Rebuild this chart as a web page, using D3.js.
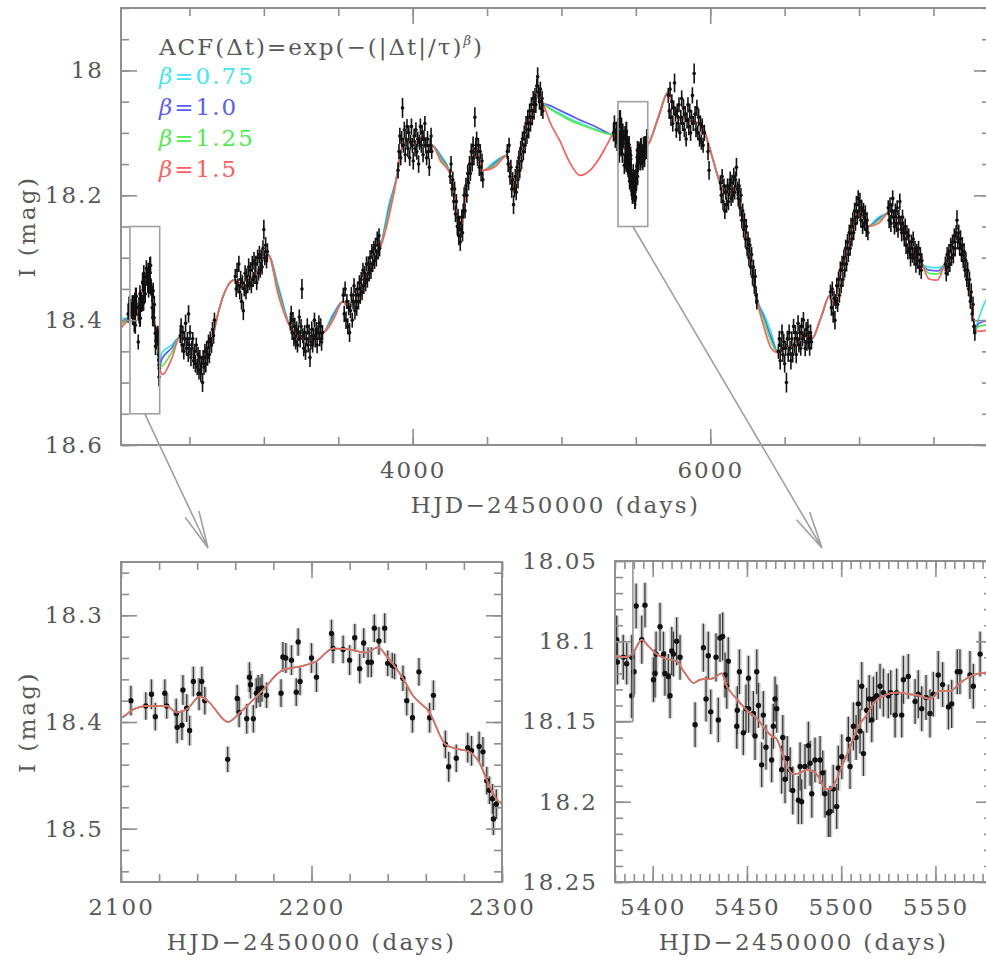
<!DOCTYPE html>
<html>
<head>
<meta charset="utf-8">
<script src="https://cdn.jsdelivr.net/npm/d3@7/dist/d3.min.js"></script>
<style>
  html, body { margin: 0; padding: 0; background: #fff; }
  svg { display: block; }
</style>
</head>
<body>
<svg id="fig" width="986" height="960"></svg>
<script>
// I-band photometry, one array per observing season: [HJD-2450000, I (mag), error (mmag)]
const season01 = [[2088,18.39,14],[2094,18.375,13],
  [2105.2,18.380,14],[2113,18.385,13],[2116,18.374,14],[2118,18.395,13],[2123,18.373,13],[2124,18.385,12],[2129,18.392,14],[2129.5,18.405,15],[2132,18.403,14],[2132.5,18.370,14],[2134.5,18.387,13],[2136,18.408,14],[2138,18.362,14],[2141,18.374,15],[2142.4,18.362,14],[2144,18.380,13],[2156,18.435,12],[2161,18.378,13],[2162,18.391,14],[2166,18.397,14],[2167.4,18.358,14],[2168,18.365,13],[2169.5,18.397,13],[2171,18.373,14],[2172,18.369,13],[2173,18.372,14],[2174,18.368,13],[2176.4,18.375,12],[2184,18.373,13],[2185,18.339,14],[2186.5,18.340,14],[2189.5,18.342,14],[2192,18.372,13],[2193,18.325,13],[2194,18.362,13],[2200,18.340,14],[2202.6,18.358,14],[2210.5,18.317,13],[2211.3,18.331,14],[2216.6,18.332,13],[2220,18.342,14],[2222.7,18.321,13],[2225.3,18.350,14],[2227.4,18.326,14],[2229.7,18.344,14],[2231.4,18.344,14],[2233,18.312,13],[2235.4,18.324,13],[2238.4,18.312,14],[2240,18.345,12],[2242.4,18.347,12],[2243.6,18.348,12],[2248,18.359,12],[2250,18.380,14],[2253,18.396,14],[2256.4,18.353,13],[2262,18.396,14],[2264,18.375,14],[2270.3,18.421,13],[2272,18.442,14],[2276,18.434,13],[2282,18.424,14],[2284,18.427,14],[2288,18.423,14],[2290,18.428,14],[2292,18.455,13],[2293.4,18.464,13],[2295,18.472,14],[2295.5,18.491,15],[2297,18.477,14]];
const season02 = [[2438,18.425,12],[2444,18.41,13],[2450,18.44,12],[2456,18.42,11],[2462,18.45,13],[2468,18.43,12],[2474,18.405,14],[2480,18.445,12],[2486,18.43,11],[2492,18.455,12],[2494,18.39,14],[2498,18.44,13],[2504,18.42,12],[2510,18.46,14],[2516,18.445,12],[2522,18.43,11],[2528,18.465,13],[2534,18.45,12],[2540,18.47,14],[2546,18.44,12],[2552,18.475,13],[2558,18.455,12],[2564,18.48,15],[2570,18.46,12],[2576,18.485,14],[2582,18.47,13],[2588,18.50,15],[2592,18.46,12],[2598,18.475,13],[2604,18.45,12],[2610,18.47,14],[2616,18.445,12],[2622,18.46,13],[2628,18.435,12],[2634,18.455,14],[2640,18.43,12],[2648,18.44,13],[2655,18.415,12],[2662,18.425,13],[2668,18.40,12]];
const season03 = [[2808,18.33,12],[2814,18.35,13],[2820,18.32,12],[2826,18.345,12],[2832,18.31,13],[2838,18.355,12],[2844,18.335,14],[2850,18.37,13],[2856,18.34,12],[2862,18.385,15],[2868,18.35,12],[2874,18.325,13],[2880,18.355,12],[2886,18.33,13],[2892,18.345,12],[2898,18.315,14],[2904,18.34,12],[2910,18.32,13],[2916,18.345,12],[2922,18.31,13],[2928,18.335,12],[2934,18.305,14],[2940,18.33,12],[2946,18.31,13],[2952,18.34,12],[2958,18.30,13],[2964,18.325,12],[2970,18.295,14],[2976,18.32,12],[2982,18.30,13],[2988,18.315,12],[2994,18.285,13],[3000,18.255,16],[3006,18.30,12],[3012,18.28,13],[3018,18.305,12],[3024,18.29,13]];
const season04 = [[3178,18.405,12],[3184,18.39,13],[3190,18.42,12],[3196,18.40,13],[3202,18.43,12],[3208,18.41,14],[3214,18.435,12],[3220,18.415,13],[3226,18.44,12],[3232,18.42,13],[3238,18.395,12],[3244,18.43,14],[3250,18.41,12],[3256,18.35,16],[3262,18.425,12],[3268,18.445,13],[3274,18.42,12],[3280,18.45,14],[3286,18.43,12],[3292,18.41,13],[3298,18.44,12],[3304,18.42,13],[3310,18.46,15],[3316,18.435,12],[3322,18.415,13],[3328,18.44,12],[3334,18.425,13],[3340,18.40,12],[3346,18.43,14],[3352,18.415,12],[3358,18.44,13],[3364,18.42,12],[3370,18.405,13],[3376,18.43,12],[3382,18.41,13],[3388,18.435,14],[3394,18.42,12]];
const season05 = [[3534,18.36,12],[3540,18.39,13],[3546,18.35,12],[3552,18.40,14],[3558,18.37,12],[3564,18.41,13],[3570,18.38,12],[3576,18.42,15],[3582,18.385,12],[3588,18.36,13],[3594,18.40,12],[3600,18.37,13],[3606,18.345,12],[3612,18.385,14],[3618,18.36,12],[3624,18.38,13],[3630,18.35,12],[3636,18.37,13],[3642,18.34,12],[3648,18.36,14],[3654,18.335,12],[3660,18.355,13],[3666,18.32,12],[3672,18.345,13],[3678,18.325,12],[3684,18.34,14],[3690,18.31,12],[3696,18.335,13],[3702,18.31,12],[3708,18.325,13],[3714,18.30,12],[3720,18.32,14],[3726,18.29,12],[3732,18.31,13],[3738,18.285,12],[3744,18.305,13],[3750,18.28,12],[3756,18.30,14],[3762,18.27,12],[3768,18.29,13],[3774,18.265,12],[3778,18.285,13]];
const season06 = [[3902,18.16,13],[3908,18.13,12],[3914,18.105,13],[3920,18.14,12],[3926,18.11,13],[3932,18.06,16],[3938,18.12,12],[3944,18.095,13],[3950,18.135,12],[3956,18.11,13],[3962,18.09,12],[3968,18.125,14],[3974,18.10,12],[3980,18.14,13],[3986,18.115,12],[3992,18.09,13],[3998,18.12,12],[4004,18.145,14],[4010,18.105,12],[4016,18.125,13],[4022,18.095,12],[4028,18.13,13],[4034,18.11,12],[4040,18.15,14],[4046,18.115,12],[4052,18.09,13],[4058,18.12,12],[4064,18.10,13],[4070,18.135,12],[4076,18.11,14],[4082,18.085,12],[4088,18.12,13],[4094,18.14,12],[4100,18.11,13],[4106,18.13,12],[4112,18.155,14],[4118,18.12,12],[4124,18.105,13],[4128,18.13,12]];
const season07 = [[4252,18.17,12],[4258,18.15,13],[4264,18.19,12],[4270,18.175,13],[4276,18.21,14],[4282,18.19,12],[4288,18.23,13],[4294,18.21,12],[4300,18.25,14],[4305,18.235,13],[4310,18.265,15],[4315,18.245,12],[4320,18.275,14],[4325,18.255,13],[4330,18.235,12],[4335,18.26,14],[4340,18.225,12],[4346,18.20,13],[4352,18.225,12],[4358,18.185,13],[4364,18.20,12],[4370,18.165,14],[4376,18.18,12],[4382,18.15,13],[4388,18.165,12],[4394,18.13,13],[4400,18.15,12],[4406,18.12,14],[4412,18.14,12],[4418,18.075,16],[4424,18.125,13],[4430,18.11,12],[4436,18.14,13],[4442,18.12,12],[4448,18.155,14],[4454,18.13,12],[4460,18.165,13],[4466,18.145,12],[4472,18.175,13]];
const season08 = [[4636,18.13,12],[4642,18.15,13],[4648,18.12,12],[4654,18.17,13],[4660,18.155,12],[4666,18.19,14],[4672,18.175,12],[4678,18.215,15],[4684,18.19,13],[4690,18.17,12],[4696,18.195,13],[4702,18.155,12],[4708,18.175,14],[4714,18.14,12],[4720,18.16,13],[4726,18.125,12],[4732,18.145,13],[4738,18.11,12],[4744,18.13,14],[4750,18.10,12],[4756,18.12,13],[4762,18.085,12],[4768,18.105,13],[4774,18.075,12],[4780,18.095,14],[4786,18.065,12],[4792,18.085,13],[4798,18.055,12],[4804,18.075,13],[4810,18.045,12],[4816,18.065,14],[4822,18.04,12],[4828,18.055,13],[4834,18.025,12],[4840,18.01,15],[4846,18.035,12],[4852,18.05,13],[4858,18.03,12],[4864,18.06,13],[4870,18.045,12],[4875,18.065,13]];
const season09 = [[5350,18.10,14],[5356,18.085,13],[5362,18.11,14],[5368,18.095,13],[5374,18.115,14],[5378,18.09,13],
  [5380.9,18.099,15],[5381.3,18.113,14],[5384.4,18.110,14],[5386.2,18.114,13],[5388.9,18.110,14],[5388.9,18.134,14],[5390.1,18.119,14],[5391.2,18.078,14],[5395.9,18.0775,14],[5394.2,18.099,15],[5400.4,18.124,14],[5401.2,18.120,15],[5401.8,18.108,14],[5403.9,18.091,15],[5405.7,18.108,14],[5406.5,18.120,14],[5408.3,18.122,14],[5409.2,18.134,14],[5410.1,18.106,15],[5411.0,18.108,14],[5412.7,18.100,15],[5414.5,18.110,14],[5422.5,18.152,14],[5426.9,18.104,15],[5428.3,18.136,14],[5429.5,18.109,15],[5430.8,18.144,14],[5433.6,18.110,15],[5434.8,18.149,14],[5435.7,18.098,15],[5437.1,18.097,15],[5438.4,18.121,14],[5440.1,18.1125,15],[5439.3,18.128,14],[5444.6,18.153,14],[5444.9,18.143,15],[5446.0,18.119,14],[5448.1,18.157,14],[5449.5,18.142,15],[5450.8,18.123,14],[5450.9,18.142,15],[5453.4,18.145,14],[5455.2,18.119,14],[5454.3,18.159,15],[5456.1,18.140,14],[5457.8,18.177,14],[5458.7,18.146,15],[5460.1,18.166,14],[5463.1,18.174,14],[5464.9,18.136,14],[5465.8,18.142,15],[5464.0,18.153,14],[5469.0,18.160,14],[5468.4,18.180,15],[5470.2,18.186,15],[5471.4,18.173,14],[5472.9,18.180,14],[5474.3,18.193,15],[5477.3,18.199,15],[5478.2,18.178,15],[5479.0,18.200,14],[5480.8,18.178,14],[5482.6,18.165,15],[5483.5,18.176,14],[5484.4,18.195,15],[5486.1,18.174,14],[5488.8,18.174,15],[5490.2,18.182,14],[5491.4,18.195,15],[5493.2,18.207,15],[5494.1,18.206,16],[5495.8,18.192,15],[5497.6,18.203,14],[5498.5,18.179,14],[5500.3,18.172,14],[5503.8,18.161,14],[5504.7,18.178,14],[5506.5,18.153,15],[5507.9,18.160,14],[5509.1,18.139,15],[5510.0,18.156,14],[5511.8,18.170,14],[5510.9,18.128,15],[5513.5,18.143,14],[5514.9,18.136,15],[5516.2,18.149,14],[5517.1,18.136,14],[5518.8,18.134,15],[5520.6,18.128,14],[5522.4,18.132,15],[5525.0,18.134,14],[5526.3,18.132,14],[5528.6,18.146,14],[5529.4,18.132,15],[5532.1,18.146,14],[5533.0,18.124,15],[5535.6,18.122,14],[5539.2,18.1375,14],[5540.9,18.133,15],[5542.7,18.142,14],[5545.0,18.135,14],[5547.1,18.145,15],[5548.9,18.133,14],[5551.5,18.121,15],[5553.8,18.127,14],[5556.9,18.141,14],[5558.6,18.139,15],[5561.6,18.119,14],[5563.0,18.119,14],[5568.3,18.121,15],[5570.1,18.128,14],[5573.7,18.108,14]];
const season10 = [[5718,18.04,12],[5724,18.065,13],[5730,18.03,12],[5736,18.075,14],[5742,18.05,12],[5748,18.085,13],[5754,18.06,12],[5760,18.02,15],[5766,18.07,12],[5772,18.095,13],[5778,18.065,12],[5784,18.085,14],[5790,18.055,12],[5796,18.10,13],[5802,18.075,12],[5808,18.045,13],[5814,18.085,12],[5820,18.06,14],[5826,18.095,12],[5832,18.07,13],[5838,18.11,12],[5844,18.08,13],[5850,18.055,12],[5856,18.09,14],[5862,18.065,12],[5868,18.10,13],[5874,18.075,12],[5880,18.04,13],[5886,18.085,12],[5892,18.005,16],[5898,18.07,13],[5904,18.095,12],[5910,18.06,13],[5916,18.10,12],[5922,18.075,14],[5928,18.11,12],[5934,18.085,13],[5940,18.115,12],[5946,18.09,13],[5952,18.12,12],[5960,18.10,13],[5985,18.13,14],[5992,18.16,15]];
const season11 = [[6068,18.18,12],[6074,18.20,13],[6080,18.17,12],[6086,18.21,14],[6092,18.185,12],[6098,18.225,13],[6104,18.195,12],[6110,18.215,13],[6116,18.185,12],[6122,18.21,14],[6128,18.19,12],[6134,18.175,13],[6140,18.205,12],[6146,18.18,13],[6152,18.20,12],[6158,18.17,14],[6164,18.195,12],[6170,18.175,13],[6176,18.155,15],[6182,18.19,12],[6188,18.205,13],[6194,18.185,12],[6200,18.22,14],[6206,18.20,12],[6212,18.24,13],[6218,18.225,12],[6224,18.255,13],[6230,18.24,12],[6236,18.27,14],[6242,18.25,12],[6248,18.285,13],[6254,18.27,12],[6260,18.30,14],[6266,18.28,12],[6272,18.315,13],[6278,18.295,12],[6284,18.33,14],[6290,18.315,12],[6296,18.345,13],[6302,18.33,12],[6308,18.36,14],[6313,18.37,13]];
const season12 = [[6458,18.45,12],[6464,18.43,13],[6470,18.465,14],[6476,18.44,12],[6482,18.42,13],[6488,18.455,12],[6494,18.435,13],[6500,18.47,14],[6506,18.445,12],[6512,18.50,16],[6518,18.43,13],[6524,18.455,12],[6530,18.42,13],[6536,18.445,12],[6542,18.465,14],[6548,18.43,12],[6554,18.455,13],[6560,18.41,12],[6566,18.44,13],[6572,18.42,12],[6578,18.455,14],[6584,18.43,12],[6590,18.405,13],[6596,18.44,12],[6602,18.42,13],[6608,18.445,12],[6614,18.41,14],[6620,18.43,12],[6626,18.40,13],[6632,18.425,12],[6638,18.445,13],[6644,18.415,12],[6650,18.435,14],[6656,18.41,12],[6662,18.43,13],[6668,18.445,12],[6674,18.42,13],[6680,18.435,12]];
const season13 = [[6808,18.355,12],[6814,18.38,13],[6820,18.35,12],[6826,18.39,14],[6832,18.365,12],[6838,18.40,15],[6844,18.37,12],[6850,18.345,13],[6856,18.375,12],[6862,18.335,13],[6868,18.36,12],[6874,18.32,14],[6880,18.345,12],[6886,18.31,13],[6892,18.335,12],[6898,18.30,13],[6904,18.32,12],[6910,18.285,14],[6916,18.31,12],[6922,18.275,13],[6928,18.295,12],[6934,18.26,13],[6940,18.285,12],[6946,18.25,14],[6952,18.27,12],[6958,18.24,13],[6964,18.26,12],[6970,18.225,13],[6976,18.245,12],[6982,18.215,14],[6988,18.235,12],[6994,18.205,13],[7000,18.225,12],[7006,18.21,14],[7012,18.24,12],[7018,18.22,13],[7024,18.25,12],[7030,18.225,13],[7036,18.245,12],[7042,18.23,14],[7048,18.255,12],[7054,18.24,13],[7059,18.26,12]];
const season14 = [[7196,18.22,12],[7202,18.24,13],[7208,18.215,12],[7214,18.245,14],[7220,18.225,12],[7226,18.205,13],[7232,18.235,12],[7238,18.25,13],[7244,18.225,12],[7250,18.245,14],[7256,18.22,12],[7262,18.255,13],[7268,18.235,12],[7274,18.21,13],[7280,18.245,12],[7286,18.26,14],[7292,18.235,12],[7298,18.255,13],[7304,18.27,12],[7310,18.25,13],[7316,18.28,14],[7322,18.26,12],[7328,18.29,13],[7334,18.265,12],[7340,18.285,13],[7346,18.30,14],[7352,18.275,12],[7358,18.295,13],[7364,18.27,12],[7370,18.30,13],[7376,18.285,12],[7382,18.31,14],[7388,18.29,12],[7394,18.305,13],[7400,18.285,12],[7406,18.315,13],[7412,18.295,12],[7418,18.32,14],[7422,18.305,12]];
const season15 = [[7580,18.31,12],[7586,18.325,13],[7592,18.295,12],[7598,18.315,14],[7604,18.29,12],[7610,18.31,13],[7616,18.28,12],[7622,18.30,13],[7628,18.275,12],[7634,18.295,14],[7640,18.265,12],[7646,18.285,13],[7652,18.26,12],[7658,18.24,16],[7664,18.275,12],[7670,18.26,13],[7676,18.285,12],[7682,18.27,14],[7688,18.295,12],[7694,18.28,13],[7700,18.305,12],[7706,18.29,13],[7712,18.32,12],[7718,18.305,14],[7724,18.335,12],[7730,18.32,13],[7736,18.35,12],[7742,18.335,13],[7748,18.37,12],[7754,18.355,14],[7760,18.39,12],[7766,18.375,13],[7772,18.41,12],[7778,18.42,13]];

// Model light curve [HJD-2450000, I (mag)]: nodes shared by all four ACF shapes (inside the seasons)
const fitCommon = [
  [2100,18.396],[2106.6,18.388],[2113.6,18.385],[2124,18.385],[2129.3,18.391],[2134.6,18.388],[2141.5,18.376],[2145.9,18.381],[2156.4,18.400],[2162.5,18.391],[2172.9,18.373],[2185.2,18.351],[2193.9,18.348],[2202.6,18.343],[2211.3,18.331],[2220,18.332],[2228.8,18.335],[2234.9,18.330],[2239.3,18.338],[2248,18.359],[2253.2,18.375],[2261.9,18.391],[2270.3,18.421],[2275.9,18.425],[2282.9,18.428],[2288.1,18.438],[2293.4,18.460],[2298.6,18.475],
  [2436,18.427],[2470,18.432],[2510,18.44],[2550,18.452],[2590,18.462],[2625,18.455],[2650,18.44],[2672,18.41],
  [2806,18.335],[2830,18.34],[2860,18.35],[2900,18.335],[2950,18.325],[2990,18.305],[3028,18.295],
  [3176,18.41],[3220,18.42],[3270,18.43],[3320,18.43],[3360,18.42],[3397,18.42],
  [3532,18.37],[3570,18.38],[3610,18.37],[3650,18.35],[3690,18.33],[3730,18.31],[3760,18.295],[3780,18.285],
  [3901,18.16],[3920,18.13],[3950,18.115],[3990,18.11],[4030,18.115],[4070,18.105],[4100,18.12],[4130,18.12],
  [4251,18.165],[4270,18.185],[4290,18.215],[4305,18.245],[4320,18.258],[4335,18.245],[4350,18.21],[4365,18.18],[4380,18.16],[4400,18.14],[4420,18.125],[4445,18.14],[4473,18.16],
  [4634,18.136],[4650,18.155],[4665,18.18],[4680,18.195],[4695,18.18],[4710,18.15],[4730,18.12],[4760,18.095],[4790,18.075],[4820,18.055],[4845,18.035],[4876,18.052],
  [5346,18.104],[5365,18.106],[5380,18.109],[5386.2,18.110],[5389.7,18.107],[5394.2,18.099],[5397.7,18.103],[5402.1,18.108],[5407.4,18.111],[5412.7,18.1125],[5417.2,18.120],[5421.6,18.126],[5425.1,18.124],[5432.2,18.123],[5436.6,18.120],[5439.3,18.128],[5444.6,18.136],[5449.9,18.143],[5455.2,18.148],[5460.5,18.156],[5463.1,18.159],[5465.8,18.161],[5470.2,18.175],[5474.6,18.183],[5478.2,18.182],[5481.7,18.180],[5485.2,18.181],[5488.8,18.186],[5491.4,18.192],[5494.1,18.192],[5497.6,18.186],[5500.3,18.178],[5504.7,18.166],[5509.1,18.153],[5513.5,18.146],[5517.9,18.1375],[5522.4,18.134],[5529.4,18.132],[5536.5,18.133],[5541.8,18.134],[5547.1,18.136],[5552.4,18.131],[5557.7,18.131],[5563,18.126],[5568.3,18.122],[5573.6,18.120],[5580,18.119],
  [5650,18.076],
  [5716,18.035],[5740,18.05],[5770,18.07],[5800,18.08],[5830,18.075],[5860,18.08],[5890,18.082],[5920,18.085],[5950,18.09],[5965,18.10],
  [6015,18.14],
  [6065,18.18],[6090,18.195],[6110,18.20],[6130,18.195],[6150,18.19],[6170,18.185],[6185,18.19],[6200,18.21],[6220,18.235],[6240,18.26],[6260,18.285],[6280,18.31],[6300,18.34],[6314,18.365],
  [6455,18.452],[6480,18.445],[6510,18.44],[6540,18.445],[6570,18.435],[6600,18.43],[6630,18.42],[6660,18.425],[6683,18.43],
  [6745,18.395],
  [6805,18.36],[6825,18.375],[6845,18.365],[6865,18.34],[6885,18.32],[6905,18.305],[6925,18.285],[6945,18.265],[6965,18.245],[6985,18.228],[7005,18.225],[7025,18.235],[7045,18.24],[7060,18.25],
  [7194,18.228],[7220,18.225],[7250,18.235],[7280,18.245],[7300,18.255],[7330,18.27],[7360,18.285],[7390,18.297],[7423,18.31],
  [7578,18.31],[7600,18.30],[7620,18.285],[7640,18.27],[7658,18.262],[7675,18.272],[7695,18.292],[7715,18.318],[7735,18.345],[7755,18.375],[7770,18.40],[7780,18.415]
];
// Model nodes inside the seasonal gaps, where the four ACF shapes differ
const fitGapBeta075 = [[2040,18.397],[2070,18.397],[2315,18.452],[2380,18.440],[3100,18.347],[3465,18.39],[3840,18.215],[4190,18.136],[4555,18.145],[4920,18.060],[4990,18.069],[5060,18.078],[5130,18.085],[5200,18.092],[5270,18.098],[6360,18.39],[6410,18.42],[7130,18.235],[7470,18.315],[7530,18.316],[7800,18.40],[7853,18.368],[7880,18.36]];
const fitGapBeta100 = [[2040,18.402],[2070,18.399],[2315,18.462],[2380,18.445],[3100,18.352],[3465,18.393],[3840,18.222],[4190,18.139],[4555,18.148],[4920,18.056],[4990,18.064],[5060,18.072],[5130,18.080],[5200,18.087],[5270,18.095],[6360,18.395],[6410,18.428],[7130,18.238],[7470,18.32],[7530,18.321],[7805,18.405],[7880,18.40]];
const fitGapBeta125 = [[2040,18.407],[2070,18.401],[2318,18.473],[2380,18.452],[3100,18.357],[3465,18.397],[3840,18.228],[4190,18.142],[4555,18.151],[4920,18.061],[4990,18.071],[5060,18.080],[5130,18.087],[5200,18.093],[5270,18.099],[6360,18.40],[6410,18.435],[7130,18.241],[7470,18.325],[7530,18.326],[7805,18.41],[7880,18.407]];
const fitGapBeta150 = [[2040,18.413],[2070,18.404],[2320,18.487],[2380,18.462],[3100,18.362],[3465,18.40],[3840,18.235],[4190,18.146],[4555,18.154],[4923,18.083],[4990,18.113],[5057,18.148],[5124,18.168],[5192,18.16],[5259,18.139],[5313,18.116],[6360,18.41],[6410,18.445],[7130,18.245],[7470,18.334],[7525,18.336],[7805,18.418],[7880,18.415]];

const betaLabels = ["0.75", "1.0", "1.25", "1.5"];
const betaColors = ["#3fe6ee", "#5c5cff", "#4eec4e", "#ff5c5c"];

// Tick labels
const mainXTicks = [4000, 6000];
const mainYTicks = [18, 18.2, 18.4, 18.6];
const leftXTicks = [2100, 2200, 2300];
const leftYTicks = [18.3, 18.4, 18.5];
const rightXTicks = [5400, 5450, 5500, 5550];
const rightYTicks = [18.05, 18.1, 18.15, 18.2, 18.25];

const xTitle = "HJD\u22122450000 (days)";
const yTitle = "I (mag)";

// ---------------------------------------------------------------------------
const FONT = '"DejaVu Serif", "Liberation Serif", serif';
const AXIS_GRAY = "#8f8f8f";
const TEXT_GRAY = "#585858";
const BOX_GRAY = "#a0a0a0";
const svg = d3.select("#fig");

const seasons = [season01, season02, season03, season04, season05, season06, season07, season08,
                 season09, season10, season11, season12, season13, season14, season15];
const observations = seasons.flat();
const betaCurves = [fitGapBeta075, fitGapBeta100, fitGapBeta125, fitGapBeta150]
  .map(g => fitCommon.concat(g).sort((a, b) => a[0] - b[0]));

const panels = [
  { name: "main", x0: 121, x1: 990, y0: 8, y1: 445, xDomain: [2040, 7880], yDomain: [17.9, 18.6],
    xMajor: mainXTicks, xStep: 500, yMajor: mainYTicks, yStep: 0.05, fine: false, yLabel: true },
  { name: "left", x0: 121, x1: 502, y0: 562, y1: 882, xDomain: [2100, 2300], yDomain: [18.25, 18.55],
    xMajor: leftXTicks, xStep: 20, yMajor: leftYTicks, yStep: 0.02, fine: true, yLabel: true },
  { name: "right", x0: 615, x1: 992, y0: 561, y1: 882, xDomain: [5380, 5580], yDomain: [18.05, 18.25],
    xMajor: rightXTicks, xStep: 5, yMajor: rightYTicks, yStep: 0.01, fine: true, yLabel: false }
];

function stepTicks(domain, step) {
  const lo = Math.min(...domain), hi = Math.max(...domain);
  const a = Math.ceil(lo / step - 1e-6), b = Math.floor(hi / step + 1e-6);
  return d3.range(a, b + 1).map(i => +(i * step).toFixed(4));
}

function addAxis(g, gen, transform, values, len, labels) {
  const ax = gen.tickValues(values).tickSizeInner(-len).tickSizeOuter(0).tickPadding(17)
    .tickFormat(labels ? (d => String(+d.toFixed(3))) : () => "");
  const s = g.append("g").attr("transform", transform).call(ax);
  s.select(".domain").remove();
  s.attr("font-family", FONT).attr("font-size", 23);
  s.selectAll(".tick line").attr("stroke", AXIS_GRAY).attr("stroke-width", 1.6);
  s.selectAll(".tick text").attr("fill", TEXT_GRAY).style("letter-spacing", "2px");
}

const scales = {};
panels.forEach(p => {
  const x = d3.scaleLinear().domain(p.xDomain).range([p.x0, p.x1]);
  const y = d3.scaleLinear().domain(p.yDomain).range([p.y0, p.y1]);
  scales[p.name] = { x, y };
  const g = svg.append("g");
  const clipId = "clip-" + p.name;
  svg.append("clipPath").attr("id", clipId).append("rect")
    .attr("x", p.x0).attr("y", p.y0).attr("width", p.x1 - p.x0).attr("height", p.y1 - p.y0);
  const plot = g.append("g").attr("clip-path", `url(#${clipId})`);

  const line = d3.line().x(d => x(d[0])).y(d => y(d[1])).curve(d3.curveMonotoneX);
  const drawCurves = () => betaCurves.forEach((c, i) => {
    plot.append("path").datum(c).attr("d", line).attr("fill", "none")
      .attr("stroke", betaColors[i]).attr("stroke-width", p.fine ? 1.5 : 1.7);
  });

  // on the full light curve the models sit under the dense photometry
  if (!p.fine) drawCurves();

  const pts = observations.filter(d => d[0] >= p.xDomain[0] - 10 && d[0] <= p.xDomain[1] + 10);
  if (p.fine) {
    plot.append("g").selectAll("line").data(pts).join("line")
      .attr("x1", d => x(d[0])).attr("x2", d => x(d[0]))
      .attr("y1", d => y(d[1] - d[2] / 1000)).attr("y2", d => y(d[1] + d[2] / 1000))
      .attr("stroke", "#cfcfcf").attr("stroke-width", 4.5);
  }
  plot.append("g").selectAll("line").data(pts).join("line")
    .attr("x1", d => x(d[0])).attr("x2", d => x(d[0]))
    .attr("y1", d => y(d[1] - d[2] / 1000)).attr("y2", d => y(d[1] + d[2] / 1000))
    .attr("stroke", p.fine ? "#3a3a3a" : "#111").attr("stroke-width", p.fine ? 1.3 : 1.6);
  plot.append("g").selectAll("circle").data(pts).join("circle")
    .attr("cx", d => x(d[0])).attr("cy", d => y(d[1])).attr("r", p.fine ? 2.7 : 1.8)
    .attr("fill", "#111");

  if (p.fine) drawCurves();

  // frame
  g.append("rect").attr("x", p.x0).attr("y", p.y0).attr("width", p.x1 - p.x0).attr("height", p.y1 - p.y0)
    .attr("fill", "none").attr("stroke", AXIS_GRAY).attr("stroke-width", 2);

  const xMinor = stepTicks(p.xDomain, p.xStep);
  const yMinor = stepTicks(p.yDomain, p.yStep);
  addAxis(g, d3.axisBottom(x), `translate(0,${p.y1})`, xMinor, 8, false);
  addAxis(g, d3.axisBottom(x), `translate(0,${p.y1})`, p.xMajor, 16, true);
  addAxis(g, d3.axisTop(x), `translate(0,${p.y0})`, xMinor, 8, false);
  addAxis(g, d3.axisTop(x), `translate(0,${p.y0})`, p.xMajor, 16, false);
  addAxis(g, d3.axisLeft(y), `translate(${p.x0},0)`, yMinor, 8, false);
  addAxis(g, d3.axisLeft(y), `translate(${p.x0},0)`, p.yMajor, 16, true);
  addAxis(g, d3.axisRight(y), `translate(${p.x1},0)`, yMinor, 8, false);
  addAxis(g, d3.axisRight(y), `translate(${p.x1},0)`, p.yMajor, 16, false);

  g.append("text").attr("x", (p.x0 + p.x1) / 2).attr("y", p.y1 + 68)
    .attr("text-anchor", "middle").attr("font-family", FONT).attr("font-size", 23)
    .attr("fill", TEXT_GRAY).style("letter-spacing", "2.3px").text(xTitle);
  if (p.yLabel) {
    g.append("text").attr("transform", `translate(35,${(p.y0 + p.y1) / 2}) rotate(-90)`)
      .attr("text-anchor", "middle").attr("font-family", FONT).attr("font-size", 23)
      .attr("fill", TEXT_GRAY).style("letter-spacing", "2.5px").text(yTitle);
  }
});

// small outline drawn in the upper-left corner of the right inset
{
  const { x, y } = scales.right;
  svg.append("path")
    .attr("d", `M${x(5380)},${y(18.15)}H${x(5389.5)}V${y(18.05)}`)
    .attr("fill", "none").attr("stroke", AXIS_GRAY).attr("stroke-width", 1.5);
}

// zoom boxes on the full light curve and arrows to the insets
{
  const { x, y } = scales.main;
  const tips = [
    { p: panels[1], dx: 87, dy: -14 },
    { p: panels[2], dx: 207, dy: -13 }
  ];
  tips.forEach(({ p, dx, dy }) => {
    const bx0 = x(p.xDomain[0]), bx1 = x(p.xDomain[1]);
    const by0 = y(p.yDomain[0]), by1 = y(p.yDomain[1]);
    svg.append("rect").attr("x", bx0).attr("y", by0).attr("width", bx1 - bx0).attr("height", by1 - by0)
      .attr("fill", "none").attr("stroke", BOX_GRAY).attr("stroke-width", 1.6);
    const sx = (bx0 + bx1) / 2, sy = by1;
    const tx = p.x0 + dx, ty = p.y0 + dy;
    const ang = Math.atan2(ty - sy, tx - sx), L = 38, h = 0.2;
    const path = d3.path();
    path.moveTo(sx, sy); path.lineTo(tx, ty);
    path.moveTo(tx - L * Math.cos(ang - h), ty - L * Math.sin(ang - h)); path.lineTo(tx, ty);
    path.lineTo(tx - L * Math.cos(ang + h), ty - L * Math.sin(ang + h));
    svg.append("path").attr("d", path.toString()).attr("fill", "none")
      .attr("stroke", BOX_GRAY).attr("stroke-width", 1.6);
  });
}

// legend
{
  const lg = svg.append("g").attr("font-family", FONT).attr("font-size", 23).style("letter-spacing", "2px");
  const t = lg.append("text").attr("x", 159).attr("y", 55).attr("fill", TEXT_GRAY);
  t.append("tspan").text("ACF(\u0394t)=exp(\u2212(|\u0394t|/\u03c4)");
  t.append("tspan").attr("dy", -10).attr("font-size", 13).attr("font-style", "italic").text("\u03b2");
  t.append("tspan").attr("dy", 10).text(")");
  betaLabels.forEach((b, i) => {
    const tt = lg.append("text").attr("x", 159).attr("y", 84 + i * 31).attr("fill", betaColors[i]);
    tt.append("tspan").attr("font-style", "italic").text("\u03b2");
    tt.append("tspan").text("=" + b);
  });
}
</script>
</body>
</html>
